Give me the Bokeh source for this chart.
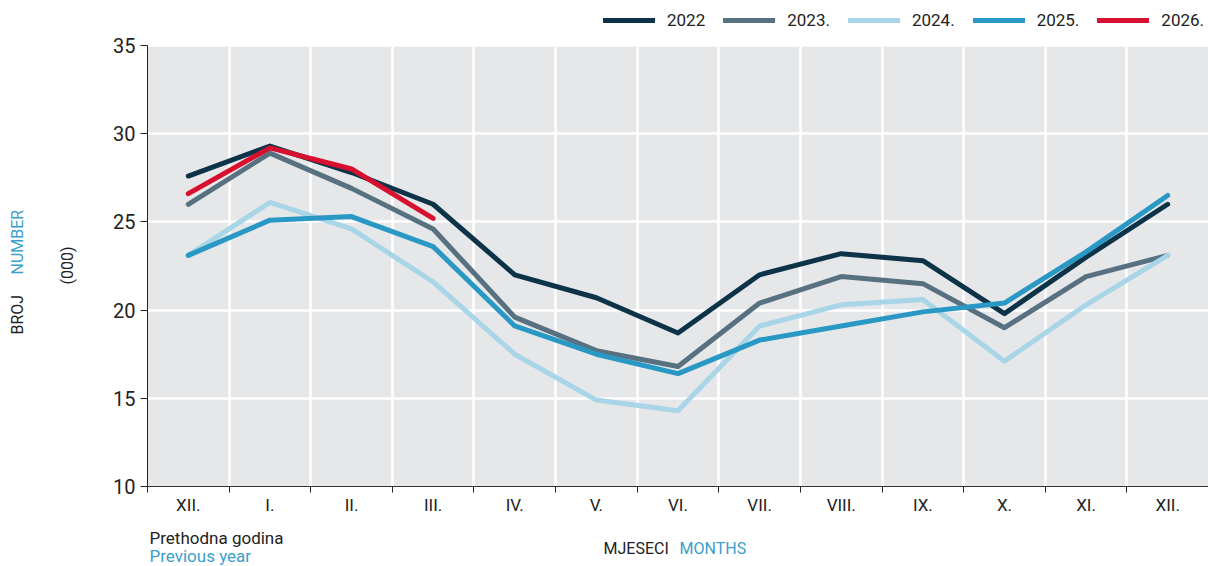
from bokeh.plotting import figure
from bokeh.models import FixedTicker, Legend, LegendItem, Label, BoxAnnotation
from bokeh.layouts import column, row
from bokeh.embed import file_html
from bokeh.resources import INLINE
import math

months = ["XII.", "I.", "II.", "III.", "IV.", "V.", "VI.", "VII.", "VIII.", "IX.", "X.", "XI.", "XII."]
y2022 = [27.6, 29.3, 27.8, 26.0, 22.0, 20.7, 18.7, 22.0, 23.2, 22.8, 19.8, 23.0, 26.0]
y2023 = [26.0, 28.9, 26.9, 24.6, 19.6, 17.7, 16.8, 20.4, 21.9, 21.5, 19.0, 21.9, 23.1]
y2024 = [23.1, 26.1, 24.6, 21.6, 17.5, 14.9, 14.3, 19.1, 20.3, 20.6, 17.1, 20.3, 23.1]
y2025 = [23.1, 25.1, 25.3, 23.6, 19.1, 17.5, 16.4, 18.3, 19.1, 19.9, 20.4, 23.3, 26.5]
y2026 = [26.6, 29.2, 28.0, 25.2]
series_names = ["2022", "2023.", "2024.", "2025.", "2026."]
series_vals = [y2022, y2023, y2024, y2025, y2026]
colors = ["#0d3349", "#587180", "#a8d5e8", "#2a98c4", "#d6102e"]
y_ticks = [10, 15, 20, 25, 30, 35]
y_min, y_max = 10, 35

FONT = "Roboto"
DARK = "#222222"
BLUE = "#3aa0cc"

# ---- main chart (frame extends above the 35 line to hold the legend)
p = figure(width=1108, height=520, output_backend="svg", toolbar_location=None,
           x_range=(-0.5, len(months) - 0.5), y_range=(y_min, y_max + 45 / 17.64),
           min_border_left=47, min_border_right=0, min_border_top=0, min_border_bottom=34)
p.background_fill_color = "white"
p.border_fill_color = "white"
p.outline_line_color = None
p.add_layout(BoxAnnotation(top=y_max, fill_color="#e6e7e9", fill_alpha=1.0,
                           line_color=None, level="image"))

# x axis
p.xaxis.ticker = FixedTicker(ticks=list(range(len(months))),
                             minor_ticks=[i + 0.5 for i in range(-1, len(months))])
p.xaxis.major_label_overrides = {i: m for i, m in enumerate(months)}
p.xaxis.major_tick_out = 0
p.xaxis.major_tick_in = 0
p.xaxis.minor_tick_out = 6
p.xaxis.minor_tick_in = 0
p.xaxis.minor_tick_line_color = DARK
p.xaxis.axis_line_color = "#333333"
p.xaxis.major_label_text_font = FONT
p.xaxis.major_label_text_font_size = "17px"
p.xaxis.major_label_text_color = DARK
p.xaxis.major_label_standoff = 2

# y axis
p.yaxis.ticker = FixedTicker(ticks=y_ticks)
p.yaxis.bounds = (y_min, y_max)
p.yaxis.major_tick_out = 7
p.yaxis.major_tick_in = 0
p.yaxis.minor_tick_line_color = None
p.yaxis.axis_line_color = DARK
p.yaxis.major_tick_line_color = DARK
p.yaxis.major_label_text_font = FONT
p.yaxis.major_label_text_font_size = "20px"
p.yaxis.major_label_text_color = DARK
p.yaxis.major_label_standoff = 5

# grids (white; invisible on the white area above the plot box)
p.xgrid.ticker = FixedTicker(ticks=[i + 0.5 for i in range(len(months) - 1)])
p.xgrid.grid_line_color = "white"
p.xgrid.grid_line_width = 2.5
p.ygrid.grid_line_color = "white"
p.ygrid.grid_line_width = 2.5

items = []
xs = list(range(len(months)))
for name, vals, c in zip(series_names, series_vals, colors):
    r = p.line(xs[:len(vals)], vals, line_color=c, line_width=5,
               line_cap="round", line_join="round")
    items.append(LegendItem(label=name, renderers=[r]))

legend = Legend(items=items, orientation="horizontal", location=(456, 456),
                glyph_width=52, glyph_height=20, label_standoff=12, spacing=18,
                padding=0, margin=0, border_line_color=None, background_fill_alpha=0,
                label_text_font=FONT, label_text_font_size="17px", label_text_color=DARK)
p.add_layout(legend)


def helper(w, h):
    f = figure(width=w, height=h, output_backend="svg", toolbar_location=None,
               x_range=(0, 1), y_range=(0, 1), x_axis_type=None, y_axis_type=None,
               min_border_left=0, min_border_right=0, min_border_top=0, min_border_bottom=0)
    f.outline_line_color = None
    f.grid.visible = False
    f.background_fill_color = "white"
    f.border_fill_color = "white"
    return f


def lab(f, text, x, y, color, size="16px", angle=0.0, align="left"):
    f.add_layout(Label(x=x, y=y, x_units="screen", y_units="screen", text=text,
                       text_color=color, text_font=FONT, text_font_size=size,
                       angle=angle, text_align=align, text_baseline="middle"))


# ---- left strip: y axis title
left = helper(100, 520)
lab(left, "BROJ", 17, 152, DARK, angle=math.pi / 2)
lab(left, "NUMBER", 17, 212, BLUE, angle=math.pi / 2)
lab(left, "(000)", 67, 221, DARK, angle=math.pi / 2, align="center")

# ---- bottom strip: notes and x axis title
bottom = helper(1208, 46)
lab(bottom, "Prethodna godina", 149, 29, DARK, size="17px")
lab(bottom, "Previous year", 149, 11, BLUE, size="17px")
lab(bottom, "MJESECI", 603, 18, DARK)
lab(bottom, "MONTHS", 679, 18, BLUE)

layout = column(row(left, p, spacing=0), bottom, spacing=0)

open("out.html", "w").write(file_html(layout, INLINE))
